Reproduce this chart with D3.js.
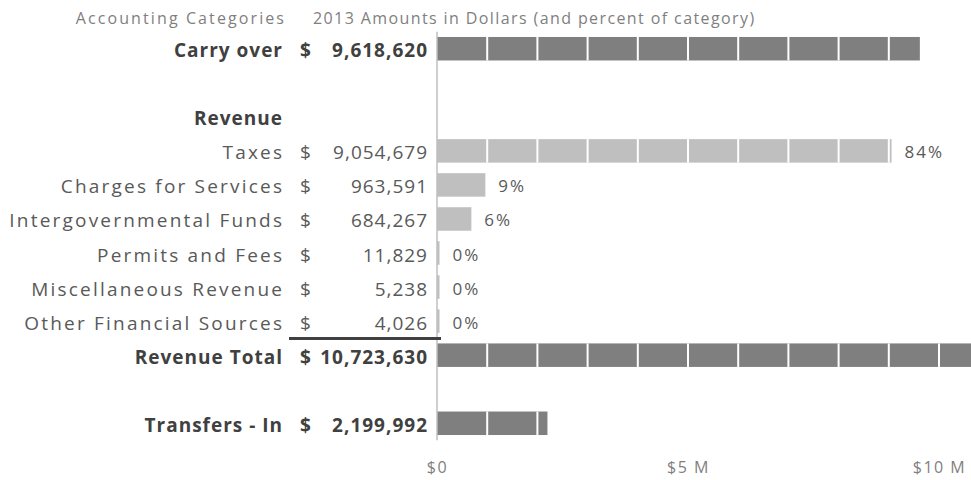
<!DOCTYPE html>
<html>
<head>
<meta charset="utf-8">
<script src="https://cdn.jsdelivr.net/npm/d3@7"></script>
<style>
  body { margin: 0; background: #fff; }
  svg text { font-family: "Open Sans", Lato, sans-serif; }
</style>
</head>
<body>
<svg id="chart" width="971" height="480"></svg>
<script>
// rows of the table, top to bottom ("" = empty spacer row)
const categories = ["Carry over", "", "Revenue", "Taxes", "Charges for Services",
  "Intergovernmental Funds", "Permits and Fees", "Miscellaneous Revenue",
  "Other Financial Sources", "Revenue Total", "", "Transfers - In"];
const amounts = [9618620, null, null, 9054679, 963591, 684267, 11829, 5238, 4026,
  10723630, null, 2199992];
const rowTypes = ["total", "blank", "heading", "item", "item", "item", "item", "item",
  "item", "total", "blank", "total"];
const tickValues = [0, 5000000, 10000000];
const tickLabels = ["$0", "$5 M", "$10 M"];
const headers = ["Accounting Categories", "2013 Amounts in Dollars (and percent of category)"];

const svg = d3.select("#chart");

const x = d3.scaleLinear().domain([0, 10000000]).range([437, 939]);
const y = d3.scaleBand()
  .domain(d3.range(categories.length))
  .range([31.7, 440.3])
  .paddingInner(0.31)
  .paddingOuter(0.155);
const step = y.step();

const categoryTotal = amounts[categories.indexOf("Revenue Total")];
const pct = d3.format(".0%");

const isItem = d => d.type == "item";
const textY = d => y(d.i) + y.bandwidth() / 2 + 8.5;
const labelSpacing = d => isItem(d) ? 2.2 : 1;

// header
svg.append("text")
  .attr("x", 284 + 2.1).attr("y", 24)
  .attr("text-anchor", "end")
  .attr("fill", "#7f7f7f").attr("font-size", 16).attr("letter-spacing", 2.1)
  .text(headers[0]);
svg.append("text")
  .attr("x", 313).attr("y", 24)
  .attr("fill", "#7f7f7f").attr("font-size", 16).attr("letter-spacing", 1.4)
  .text(headers[1]);

const rows = categories.map((c, i) => ({ name: c, value: amounts[i], type: rowTypes[i], i: i }));

// category labels
svg.selectAll(".cat")
  .data(rows.filter(d => d.name))
  .enter().append("text")
  .attr("class", "cat")
  .attr("x", d => 282 + labelSpacing(d))
  .attr("y", textY)
  .attr("text-anchor", "end")
  .attr("font-size", 19)
  .attr("font-weight", d => isItem(d) ? "normal" : "bold")
  .attr("letter-spacing", labelSpacing)
  .attr("fill", d => isItem(d) ? "#595959" : "#404040")
  .text(d => d.name);

const valued = rows.filter(d => d.value != null);

// dollar column
svg.selectAll(".dollar")
  .data(valued)
  .enter().append("text")
  .attr("x", 300)
  .attr("y", textY)
  .attr("font-size", 19)
  .attr("font-weight", d => isItem(d) ? "normal" : "bold")
  .attr("fill", d => isItem(d) ? "#595959" : "#404040")
  .text("$");

svg.selectAll(".amount")
  .data(valued)
  .enter().append("text")
  .attr("x", 427 + 1)
  .attr("y", textY)
  .attr("text-anchor", "end")
  .attr("font-size", 19)
  .attr("font-weight", d => isItem(d) ? "normal" : "bold")
  .attr("letter-spacing", 1)
  .attr("fill", d => isItem(d) ? "#595959" : "#404040")
  .text(d => d3.format(",")(d.value));

// bars
svg.selectAll(".bar")
  .data(valued)
  .enter().append("rect")
  .attr("class", "bar")
  .attr("x", x(0))
  .attr("y", d => y(d.i))
  .attr("width", d => Math.max(x(d.value) - x(0), 2.5))
  .attr("height", y.bandwidth())
  .attr("fill", d => isItem(d) ? "#bfbfbf" : "#7f7f7f");

// white $1M separators inside the bars
valued.forEach(d => {
  const marks = d3.range(1000000, d.value, 1000000);
  svg.selectAll(null)
    .data(marks)
    .enter().append("rect")
    .attr("x", m => x(m) - 1)
    .attr("y", y(d.i))
    .attr("width", 2)
    .attr("height", y.bandwidth())
    .attr("fill", "#fff");
});

// percent of category labels
svg.selectAll(".pct")
  .data(valued.filter(isItem))
  .enter().append("text")
  .attr("x", d => Math.max(x(d.value), x(0) + 2.5) + 13)
  .attr("y", d => textY(d) - 1)
  .attr("font-size", 17)
  .attr("letter-spacing", 2)
  .attr("fill", "#595959")
  .text(d => pct(d.value / categoryTotal));

// vertical zero line
svg.append("line")
  .attr("x1", x(0)).attr("x2", x(0))
  .attr("y1", y.range()[0]).attr("y2", y.range()[1])
  .attr("stroke", "#bfbfbf").attr("stroke-width", 1.5);

// subtotal underline under the last revenue item
const lastItem = categories.indexOf("Other Financial Sources");
svg.append("line")
  .attr("x1", 289).attr("x2", x(0) + 4)
  .attr("y1", y(lastItem) + step - 5).attr("y2", y(lastItem) + step - 5)
  .attr("stroke", "#404040").attr("stroke-width", 3);

// x axis
const axis = svg.append("g")
  .attr("transform", "translate(0,456)")
  .call(d3.axisBottom(x).tickValues(tickValues)
    .tickFormat((d, i) => tickLabels[i]).tickSize(0));
axis.select(".domain").remove();
axis.selectAll("text")
  .attr("font-family", null)
  .attr("font-size", 16)
  .attr("letter-spacing", 1.5)
  .attr("fill", "#7f7f7f")
  .attr("dy", "0.85em");
</script>
</body>
</html>
